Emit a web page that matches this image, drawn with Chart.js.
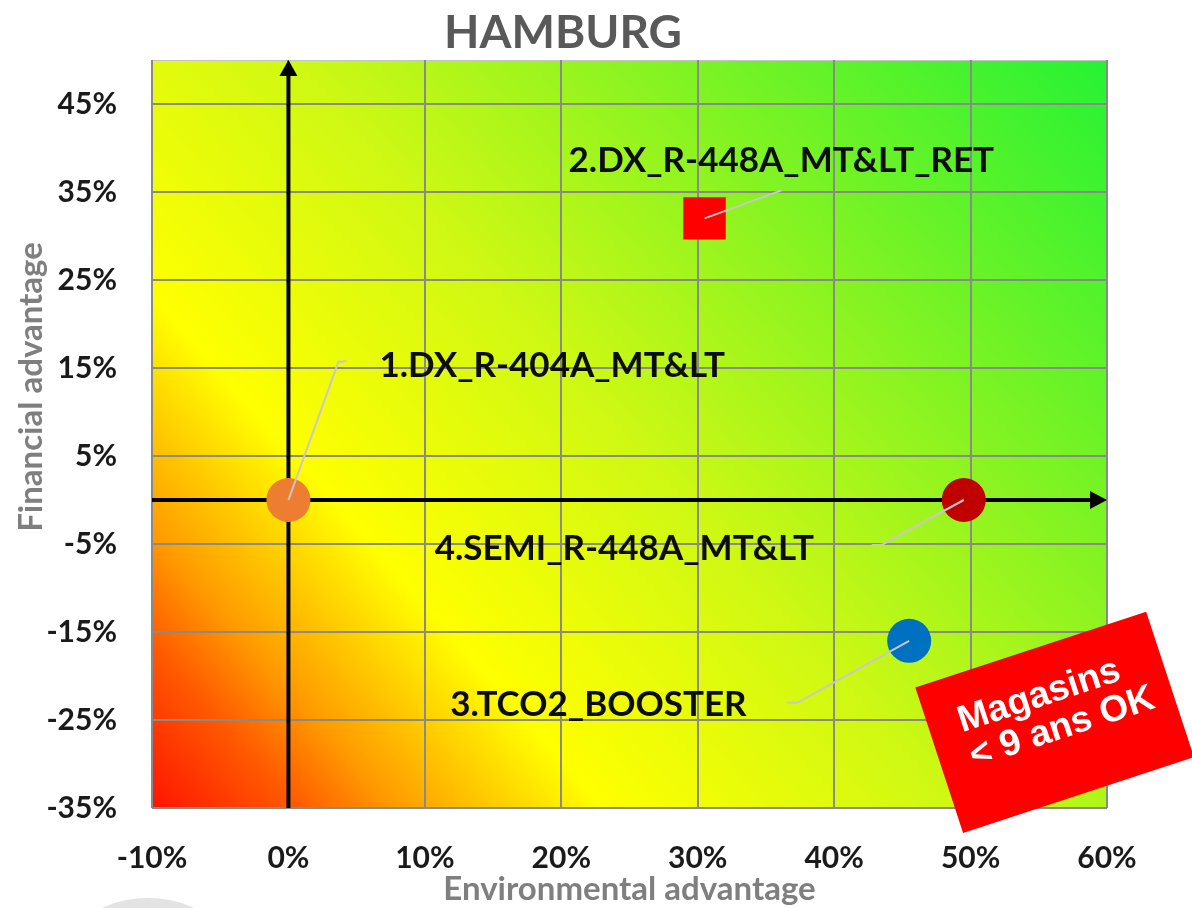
<!DOCTYPE html>
<html>
<head>
<meta charset="utf-8">
<title>HAMBURG</title>
<script src="https://cdn.jsdelivr.net/npm/chart.js@4.4.0/dist/chart.umd.min.js"></script>
<style>
  html, body { margin: 0; padding: 0; background: #fff; }
  #wrap { width: 1192px; height: 908px; position: relative; }
</style>
</head>
<body>
<div id="wrap"><canvas id="matrix" width="1192" height="908"></canvas></div>
<script>
// scenarios
var scenarioNames = ['1.DX_R-404A_MT&LT', '2.DX_R-448A_MT&LT_RET', '3.TCO2_BOOSTER', '4.SEMI_R-448A_MT&LT'];
var envAdvantage = [0, 30.5, 45.5, 49.5];   // %
var finAdvantage = [0, 32, -16, 0];         // %
var xTicks = [-10, 0, 10, 20, 30, 40, 50, 60];
var yTicks = [-35, -25, -15, -5, 5, 15, 25, 35, 45];

var markColors = ['#ED7D31', '#FF0000', '#0070C0', '#C00000'];
var markStyles = ['circle', 'rect', 'circle', 'circle'];
var markRadius = [22, 30, 22, 22];

// where each label sits, relative to its mark (px): text start, leader end, hook end
var labelLayout = [
  { tx: 91,   ty: -134, lx: 50,   ly: -138, hx: 58,   hy: -139 },
  { tx: -136, ty: -58,  lx: 77,   ly: -28,  hx: 77,   hy: -28 },
  { tx: -459, ty: 64,   lx: -112, ly: 62,   hx: -122, hy: 62 },
  { tx: -529, ty: 49,   lx: -82,  ly: 45,   hx: -92,  hy: 45 }
];

var FONT = 'Lato, "Open Sans", sans-serif';

var matrixPlugin = {
  id: 'matrix',
  beforeDraw: function(chart) {
    var ctx = chart.ctx, a = chart.chartArea;
    // red -> yellow -> green wash, from bottom-left to top-right
    var ux = 0.75, uy = -0.661;
    var len = (a.right - a.left) * ux - (a.bottom - a.top) * uy;
    var g = ctx.createLinearGradient(a.left, a.bottom, a.left + ux * len, a.bottom + uy * len);
    g.addColorStop(0, '#ff1400');
    g.addColorStop(0.09, '#ff5a00');
    g.addColorStop(0.15, '#ff9a00');
    g.addColorStop(0.28, '#ffff00');
    g.addColorStop(0.5, '#cef814');
    g.addColorStop(0.72, '#84f322');
    g.addColorStop(1, '#26f234');
    ctx.save();
    ctx.fillStyle = g;
    ctx.fillRect(a.left, a.top, a.right - a.left, a.bottom - a.top);
    ctx.strokeStyle = '#c4c4c4';
    ctx.lineWidth = 1;
    ctx.strokeRect(a.left + 0.5, a.top + 0.5, a.right - a.left - 1, a.bottom - a.top - 1);
    ctx.restore();
  },
  beforeDatasetsDraw: function(chart) {
    var ctx = chart.ctx, a = chart.chartArea;
    var x0 = chart.scales.x.getPixelForValue(0);
    var y0 = chart.scales.y.getPixelForValue(0);
    ctx.save();
    ctx.strokeStyle = '#000';
    ctx.fillStyle = '#000';
    ctx.lineWidth = 4;
    // vertical axis with arrow
    ctx.beginPath();
    ctx.moveTo(x0, a.bottom);
    ctx.lineTo(x0, a.top + 12);
    ctx.stroke();
    ctx.beginPath();
    ctx.moveTo(x0, a.top);
    ctx.lineTo(x0 - 9, a.top + 16);
    ctx.lineTo(x0 + 9, a.top + 16);
    ctx.closePath();
    ctx.fill();
    // horizontal axis with arrow
    ctx.beginPath();
    ctx.moveTo(a.left, y0);
    ctx.lineTo(a.right - 12, y0);
    ctx.stroke();
    ctx.beginPath();
    ctx.moveTo(a.right, y0);
    ctx.lineTo(a.right - 17, y0 - 9);
    ctx.lineTo(a.right - 17, y0 + 9);
    ctx.closePath();
    ctx.fill();
    ctx.restore();
  },
  afterDatasetsDraw: function(chart) {
    var ctx = chart.ctx;
    ctx.save();
    for (var i = 0; i < scenarioNames.length; i++) {
      var el = chart.getDatasetMeta(i).data[0];
      var L = labelLayout[i];
      // leader line
      ctx.strokeStyle = '#c8c8c8';
      ctx.lineWidth = 2;
      ctx.beginPath();
      ctx.moveTo(el.x, el.y);
      ctx.lineTo(el.x + L.lx, el.y + L.ly);
      ctx.lineTo(el.x + L.hx, el.y + L.hy);
      ctx.stroke();
      // label
      ctx.fillStyle = '#0d0d0d';
      ctx.font = 'bold 35px ' + FONT;
      ctx.textAlign = 'left';
      ctx.textBaseline = 'middle';
      ctx.fillText(scenarioNames[i], el.x + L.tx, el.y + L.ty);
    }
    ctx.restore();
  },
  afterDraw: function(chart) {
    var ctx = chart.ctx, a = chart.chartArea;
    ctx.save();
    // title
    ctx.fillStyle = '#595959';
    ctx.font = 'bold 46px ' + FONT;
    ctx.textAlign = 'center';
    ctx.textBaseline = 'middle';
    ctx.fillText('HAMBURG', 563, 33);
    // y axis title
    ctx.save();
    ctx.translate(31, 387);
    ctx.rotate(-Math.PI / 2);
    ctx.fillStyle = '#7f7f7f';
    ctx.font = 'bold 33px ' + FONT;
    ctx.fillText('Financial advantage', 0, 0);
    ctx.restore();
    // stamp
    ctx.save();
    ctx.translate(a.right - 53, a.bottom - 86);
    ctx.rotate(-18.2 * Math.PI / 180);
    ctx.fillStyle = '#ff0000';
    ctx.fillRect(-121, -76, 243, 153);
    ctx.fillStyle = '#fff';
    ctx.font = 'bold 37px "Liberation Sans", Arial, sans-serif';
    ctx.textAlign = 'center';
    ctx.textBaseline = 'middle';
    ctx.fillText('Magasins', -6, -29);
    ctx.fillText('< 9 ans OK', 6, 8);
    ctx.restore();
    // grey disc peeking in at the bottom
    ctx.fillStyle = '#e3e3e3';
    ctx.beginPath();
    ctx.arc(148, 1008, 110, 0, Math.PI * 2);
    ctx.fill();
    ctx.restore();
  }
};

var datasets = scenarioNames.map(function(name, i) {
  return {
    label: name,
    data: [{ x: envAdvantage[i], y: finAdvantage[i] }],
    pointStyle: markStyles[i],
    pointRadius: markRadius[i],
    pointHoverRadius: markRadius[i],
    pointBackgroundColor: markColors[i],
    pointBorderWidth: 0,
    pointBorderColor: markColors[i]
  };
});

function tickList(values) {
  return function(scale) {
    scale.ticks = values.map(function(v) { return { value: v }; });
  };
}

function draw() {
  new Chart(document.getElementById('matrix'), {
    type: 'scatter',
    data: { datasets: datasets },
    options: {
      responsive: false,
      animation: false,
      layout: { padding: { left: 0, right: 85, top: 60, bottom: 0 } },
      plugins: {
        legend: { display: false },
        tooltip: { enabled: false }
      },
      scales: {
        x: {
          min: -10,
          max: 60,
          afterBuildTicks: tickList(xTicks),
          afterFit: function(scale) { scale.height = 100; },
          grid: { color: '#8a8a8a', lineWidth: 2, drawTicks: false },
          border: { display: false },
          ticks: {
            padding: 32,
            color: '#1a1a1a',
            font: { family: FONT, size: 30, weight: 'bold' },
            callback: function(v) { return v + '%'; }
          },
          title: {
            display: true,
            text: 'Environmental advantage',
            color: '#7f7f7f',
            padding: { top: 0, bottom: 0 },
            font: { family: FONT, size: 33, weight: 'bold', lineHeight: 1.1 }
          }
        },
        y: {
          min: -35,
          max: 50,
          afterBuildTicks: tickList(yTicks),
          afterFit: function(scale) { scale.width = 152; },
          grid: { color: '#8a8a8a', lineWidth: 2, drawTicks: false },
          border: { display: false },
          ticks: {
            padding: 35,
            color: '#1a1a1a',
            font: { family: FONT, size: 30, weight: 'bold' },
            callback: function(v) { return v + '%'; }
          }
        }
      }
    },
    plugins: [matrixPlugin]
  });
}

if (document.fonts && document.fonts.load) {
  Promise.all([
    document.fonts.load('bold 30px Lato'),
    document.fonts.load('bold 37px "Liberation Sans"')
  ]).then(draw, draw);
} else {
  draw();
}
</script>
</body>
</html>
